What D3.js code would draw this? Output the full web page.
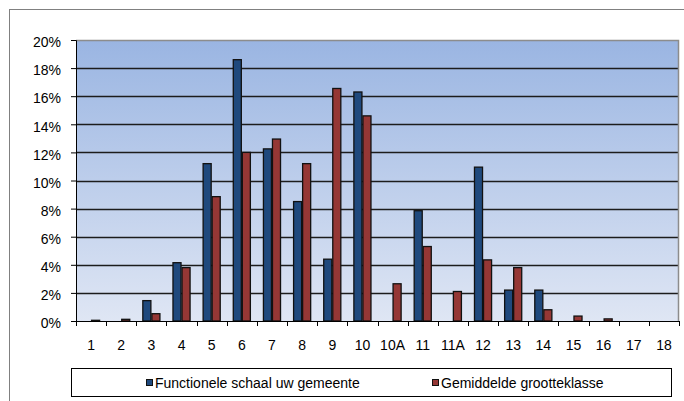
<!DOCTYPE html>
<html>
<head>
<meta charset="utf-8">
<script src="https://cdn.jsdelivr.net/npm/d3@7"></script>
<style>
  html, body { margin: 0; padding: 0; background: #fff; }
  svg { display: block; }
  text { font-family: "Liberation Sans", Arial, sans-serif; font-size: 14px; fill: #000; }
</style>
</head>
<body>
<svg id="chart" width="684" height="401"></svg>
<script>
// Category labels along the x axis
const categories = ["1", "2", "3", "4", "5", "6", "7", "8", "9", "10", "10A", "11", "11A", "12", "13", "14", "15", "16", "17", "18"];

// Share per category (percent)
const gemeente = [0, 0, 1.45, 4.15, 11.2, 18.6, 12.25, 8.5, 4.4, 16.3, 0, 7.85, 0, 10.95, 2.2, 2.2, 0, 0, 0, 0];
const grootteklasse = [0.05, 0.12, 0.52, 3.8, 8.85, 12.0, 12.95, 11.2, 16.55, 14.6, 2.65, 5.3, 2.1, 4.35, 3.8, 0.8, 0.35, 0.15, 0, 0];

const seriesNames = ["Functionele schaal uw gemeente", "Gemiddelde grootteklasse"];
const seriesColors = ["#1f497d", "#953735"];
const yTicks = [0, 2, 4, 6, 8, 10, 12, 14, 16, 18, 20];

const svg = d3.select("#chart");

// Outer chart frame
svg.append("rect")
  .attr("x", 9.5).attr("y", 9.5)
  .attr("width", 720).attr("height", 420)
  .attr("fill", "#fff").attr("stroke", "#808080").attr("stroke-width", 1);

const plot = { left: 76, right: 679, top: 40, bottom: 321 };

const x = d3.scaleBand()
  .domain(categories)
  .range([plot.left, plot.right])
  .paddingInner(0.4)
  .paddingOuter(0.2);

const xSeries = d3.scaleBand()
  .domain([0, 1])
  .range([0, x.bandwidth()]);

const y = d3.scaleLinear()
  .domain([0, 20])
  .range([plot.bottom, plot.top]);

// Plot background gradient
const defs = svg.append("defs");
const grad = defs.append("linearGradient")
  .attr("id", "plotBg").attr("x1", 0).attr("y1", 0).attr("x2", 0).attr("y2", 1);
grad.append("stop").attr("offset", "0%").attr("stop-color", "#9ab5e2");
grad.append("stop").attr("offset", "100%").attr("stop-color", "#dfe6f4");

svg.append("rect")
  .attr("x", plot.left).attr("y", plot.top)
  .attr("width", plot.right - plot.left).attr("height", plot.bottom - plot.top)
  .attr("fill", "url(#plotBg)");

// Horizontal gridlines
svg.append("g")
  .selectAll("line")
  .data(yTicks.filter(d => d > 0 && d < 20))
  .join("line")
  .attr("x1", plot.left).attr("x2", plot.right)
  .attr("y1", d => Math.round(y(d)) + 0.5).attr("y2", d => Math.round(y(d)) + 0.5)
  .attr("stroke", "#1c1c1c").attr("stroke-width", 1.4);

// Plot frame (top and right)
svg.append("path")
  .attr("d", `M${plot.left},${plot.top + 0.5}H${plot.right - 0.5}V${plot.bottom}`)
  .attr("fill", "none").attr("stroke", "#8c8c8c").attr("stroke-width", 1.5);

// Bars
const rows = categories.map((c, i) => ({ cat: c, values: [gemeente[i], grootteklasse[i]] }));
const groups = svg.append("g")
  .selectAll("g")
  .data(rows)
  .join("g")
  .attr("transform", d => `translate(${x(d.cat)},0)`);

groups.selectAll("rect")
  .data(d => d.values.map((v, s) => ({ v, s })).filter(e => e.v > 0))
  .join("rect")
  .attr("x", d => xSeries(d.s) + 0.5)
  .attr("y", d => y(d.v))
  .attr("width", xSeries.bandwidth() - 1)
  .attr("height", d => Math.max(0.8, y(0) - y(d.v)))
  .attr("fill", d => seriesColors[d.s])
  .attr("stroke", "#111").attr("stroke-width", 1.3);

// Y axis
const yAxis = d3.axisLeft(y)
  .tickValues(yTicks)
  .tickSize(5)
  .tickPadding(10)
  .tickFormat(d => d + "%");
const yg = svg.append("g")
  .attr("transform", `translate(${plot.left},0)`)
  .call(yAxis);
yg.select(".domain").attr("stroke", "#000");
yg.selectAll(".tick line").attr("stroke", "#000");
yg.selectAll("text")
  .style("font-family", "'Liberation Sans', Arial, sans-serif")
  .style("font-size", "14px")
  .attr("dy", "0.48em")
  .attr("fill", "#000");

// X axis: line, boundary ticks and centred labels
const xg = svg.append("g");
xg.append("line")
  .attr("x1", plot.left).attr("x2", plot.right)
  .attr("y1", plot.bottom + 0.5).attr("y2", plot.bottom + 0.5)
  .attr("stroke", "#000");
const step = x.step();
xg.selectAll("line.tk")
  .data(d3.range(categories.length + 1))
  .join("line")
  .attr("class", "tk")
  .attr("x1", i => Math.round(plot.left + i * step) + 0.5)
  .attr("x2", i => Math.round(plot.left + i * step) + 0.5)
  .attr("y1", plot.bottom).attr("y2", plot.bottom + 5)
  .attr("stroke", "#000");
xg.selectAll("text")
  .data(categories)
  .join("text")
  .attr("x", d => x(d) + x.bandwidth() / 2)
  .attr("y", 350)
  .attr("text-anchor", "middle")
  .text(d => d);

// Legend
const legend = { x: 71.5, y: 368.5, w: 600, h: 28 };
svg.append("rect")
  .attr("x", legend.x).attr("y", legend.y)
  .attr("width", legend.w).attr("height", legend.h)
  .attr("fill", "#fff").attr("stroke", "#000").attr("stroke-width", 1);

const legendItems = [{ mx: 146, tx: 155 }, { mx: 432, tx: 441 }];
const li = svg.append("g")
  .selectAll("g")
  .data(seriesNames)
  .join("g");
li.append("rect")
  .attr("x", (d, i) => legendItems[i].mx + 0.5)
  .attr("y", 379.5)
  .attr("width", 6).attr("height", 6)
  .attr("fill", (d, i) => seriesColors[i])
  .attr("stroke", "#111").attr("stroke-width", 1);
li.append("text")
  .attr("x", (d, i) => legendItems[i].tx)
  .attr("y", 388)
  .text(d => d);
</script>
</body>
</html>
